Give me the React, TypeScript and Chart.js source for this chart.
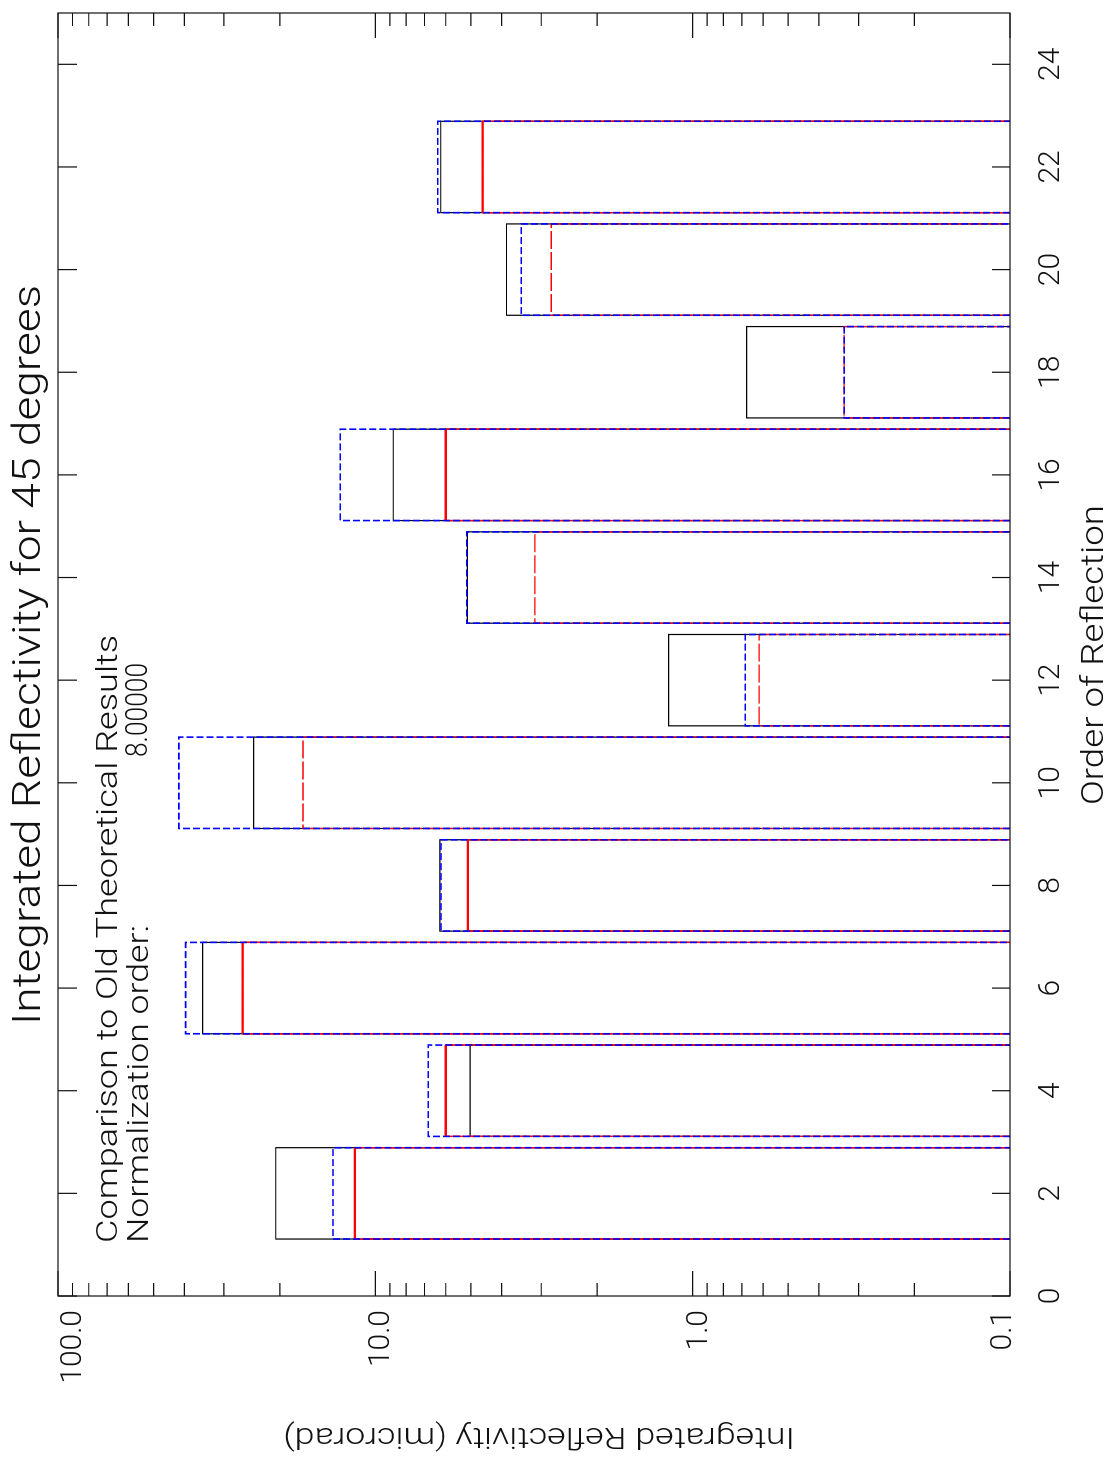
import React, { useEffect, useRef } from "react";
import { Chart, registerables } from "chart.js";

Chart.register(...registerables);

// ---- data ----
const orders = [2, 4, 6, 8, 10, 12, 14, 16, 18, 20, 22];
const blackSolid = [20.6, 5.03, 35.0, 6.26, 24.2, 1.19, 5.13, 8.78, 0.676, 3.86, 6.22];
const blueDashed = [13.6, 6.81, 39.6, 6.21, 41.6, 0.683, 5.15, 12.9, 0.333, 3.47, 6.36];
const redSolid = [11.6, 6.0, 26.2, 5.11, null, null, null, 6.0, null, null, 4.59];
const redDashed = [11.6, 6.0, 26.2, 5.11, 16.9, 0.617, 3.14, 6.0, 0.333, 2.79, 4.59];

const orderTickValues = [0, 2, 4, 6, 8, 10, 12, 14, 16, 18, 20, 22, 24];
const orderTickLabels = ["0", "2", "4", "6", "8", "10", "12", "14", "16", "18", "20", "22", "24"];
const logTickValues = [0.1, 1, 10, 100];
const logTickLabels = ["0.1", "1.0", "10.0", "100.0"];

const titleText = "Integrated Reflectivity for 45 degrees";
const commentLine1 = "Comparison to Old Theoretical Results";
const commentLine2 = "Normalization order:";
const normOrder = "8.00000";
const xTitle = "Order of Reflection";
const yTitle = "Integrated Reflectivity (microrad)";

const BASE = 0.1;
const HALF = 0.89;

function boxes(values: (number | null)[]) {
  const pts: { x: number; y: number | null }[] = [];
  orders.forEach((o, i) => {
    const v = values[i];
    if (v == null) return;
    pts.push(
      { x: o - HALF, y: BASE },
      { x: o - HALF, y: v },
      { x: o + HALF, y: v },
      { x: o + HALF, y: BASE },
      { x: o + HALF, y: null }
    );
  });
  return pts;
}

const FONT = (size: number) => `300 ${size}px Roboto, "DejaVu Sans", sans-serif`;

function drawText(
  ctx: CanvasRenderingContext2D,
  s: string,
  x: number,
  y: number,
  size: number,
  width: number | null,
  align: CanvasTextAlign = "left",
  rot = 0
) {
  ctx.save();
  ctx.font = FONT(size);
  const w = ctx.measureText(s).width;
  const sx = width ? width / w : 1;
  ctx.translate(x, y);
  if (rot) ctx.rotate(rot);
  ctx.scale(sx, 1);
  ctx.textAlign = align;
  ctx.textBaseline = "alphabetic";
  ctx.fillText(s, 0, 0);
  ctx.restore();
}

const decor = {
  id: "decor",
  beforeDraw(chart: any) {
    const ctx = chart.ctx as CanvasRenderingContext2D;
    ctx.save();
    ctx.fillStyle = "#fff";
    ctx.fillRect(0, 0, chart.width, chart.height);
    ctx.restore();
  },
  afterDraw(chart: any) {
    const ctx = chart.ctx as CanvasRenderingContext2D;
    const a = chart.chartArea;
    const xs = chart.scales.x;
    const ys = chart.scales.y;
    ctx.save();
    ctx.strokeStyle = "#111";
    ctx.lineWidth = 1.2;
    ctx.strokeRect(a.left, a.top, a.right - a.left, a.bottom - a.top);
    ctx.beginPath();
    // order axis ticks (inward, both sides)
    orderTickValues.forEach((t) => {
      const px = xs.getPixelForValue(t);
      ctx.moveTo(px, a.bottom);
      ctx.lineTo(px, a.bottom - 18);
      ctx.moveTo(px, a.top);
      ctx.lineTo(px, a.top + 19);
    });
    // log axis ticks (inward, both sides)
    for (let d = 0.1; d < 99; d *= 10) {
      for (let m = 1; m <= 10; m++) {
        const v = d * m;
        if (v > 100.0001) continue;
        const py = ys.getPixelForValue(v);
        const len = m === 1 || m === 10 ? 25 : 13;
        ctx.moveTo(a.left, py);
        ctx.lineTo(a.left + len, py);
        ctx.moveTo(a.right, py);
        ctx.lineTo(a.right - len, py);
      }
    }
    ctx.stroke();

    ctx.fillStyle = "#111";
    // order tick labels
    orderTickValues.forEach((t, i) => {
      const px = xs.getPixelForValue(t);
      drawText(ctx, orderTickLabels[i], px, 1059, 30, null, "center");
    });
    // log tick labels
    logTickValues.forEach((v, i) => {
      const py = ys.getPixelForValue(v);
      const c = Math.min(Math.max(py + 3, a.top + 12), a.bottom - 10);
      drawText(ctx, logTickLabels[i], 149, c + 11, 30, null, "right");
    });
    // titles & notes
    drawText(ctx, titleText, 434, 40, 38, 740, "left");
    drawText(ctx, commentLine1, 216, 117, 30, 608, "left");
    drawText(ctx, commentLine2, 216, 148, 30, 318, "left");
    drawText(ctx, normOrder, 702, 147, 32, 94, "left");
    drawText(ctx, xTitle, 654, 1103, 31, 300, "left");
    drawText(ctx, yTitle, 31, 539, 30, 512, "center", -Math.PI / 2);
    ctx.restore();
  },
};

// in canvas orientation the value edge of each box is the one with constant y
const valueEdge = (c: any) => c.p0.parsed.y === c.p1.parsed.y;

export default function App() {
  const ref = useRef<HTMLCanvasElement>(null);
  useEffect(() => {
    if (!ref.current) return;
    const chart = new Chart(ref.current, {
      type: "line",
      data: {
        datasets: [
          {
            label: "Blue (dashed)",
            data: boxes(blueDashed),
            borderColor: "#0000ff",
            borderWidth: 1.6,
            borderDash: [7, 3],
            order: 1,
          },
          {
            label: "Red (solid)",
            data: boxes(redSolid),
            borderColor: "#ff0000",
            borderWidth: 2.4,
            segment: {
              borderWidth: (c: any) => (valueEdge(c) ? 2.4 : 1.2),
            },
            order: 2,
          },
          {
            label: "Red (dashed)",
            data: boxes(redDashed),
            borderColor: "#ff0000",
            borderWidth: 1.3,
            borderDash: [18, 3],
            order: 3,
          },
          {
            label: "Black",
            data: boxes(blackSolid),
            borderColor: "#000000",
            borderWidth: 1.2,
            order: 4,
          },
        ] as any,
      },
      options: {
        animation: false,
        responsive: false,
        devicePixelRatio: 1,
        events: [],
        spanGaps: false,
        layout: { padding: { left: 163, right: 13, top: 58, bottom: 100 } },
        elements: {
          point: { radius: 0 },
          line: { tension: 0, fill: false },
        },
        datasets: { line: { clip: 6 } as any },
        plugins: {
          legend: { display: false },
          tooltip: { enabled: false },
          title: { display: false },
        },
        scales: {
          x: { type: "linear", min: 0, max: 25, display: false },
          y: { type: "logarithmic", min: 0.1, max: 100, display: false },
        },
      },
      plugins: [decor],
    } as any);
    return () => chart.destroy();
  }, []);
  return (
    <div
      style={{
        position: "absolute",
        left: 0,
        top: 0,
        width: 1110,
        height: 1459,
        overflow: "hidden",
        background: "#fff",
      }}
    >
      <canvas
        ref={ref}
        width={1459}
        height={1110}
        style={{
          position: "absolute",
          left: 0,
          top: 0,
          width: 1459,
          height: 1110,
          transformOrigin: "0 0",
          transform: "translateY(1459px) rotate(-90deg)",
        }}
      />
    </div>
  );
}
